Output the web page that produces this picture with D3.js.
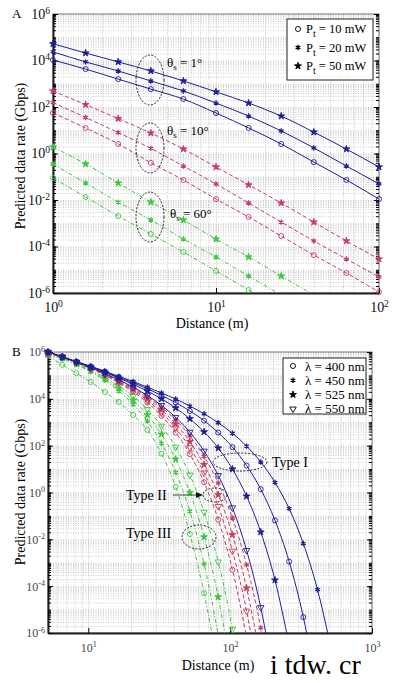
<!DOCTYPE html>
<html>
<head>
<meta charset="utf-8">
<script src="https://cdn.jsdelivr.net/npm/d3@7"></script>
<style>
  body { margin: 0; background: #fff; }
  svg { display: block; }
  text { font-family: "Liberation Serif", "Times New Roman", serif; }
</style>
</head>
<body>
<svg id="chart" width="393" height="683"></svg>
<script>
// ---- data (rates stored as log10 of Gbps) ----
// panel A: distance samples (m)
const distA = [1, 1.585, 2.512, 3.981, 6.31, 10, 15.85, 25.12, 39.81, 63.1, 100];
// theta_s = 1 deg
const a1_10mW = [4.02, 3.63, 3.20, 2.77, 2.34, 1.74, 1.10, 0.41, -0.37, -1.14, -1.96];
const a1_20mW = [4.37, 3.94, 3.55, 3.12, 2.69, 2.17, 1.61, 0.97, 0.24, -0.54, -1.31];
const a1_50mW = [4.72, 4.32, 3.94, 3.55, 3.12, 2.65, 2.17, 1.61, 0.92, 0.19, -0.58];
// theta_s = 10 deg
const a10_10mW = [1.74, 1.10, 0.41, -0.40, -1.14, -1.96, -2.73, -3.55, -4.37, -5.14, -5.96];
const a10_20mW = [2.19, 1.55, 0.90, 0.22, -0.54, -1.31, -2.13, -2.95, -3.76, -4.54, -5.31];
const a10_50mW = [2.69, 2.10, 1.50, 0.88, 0.19, -0.58, -1.35, -2.13, -2.95, -3.76, -4.54];
// theta_s = 60 deg
const a60_10mW = [-1.05, -1.87, -2.69, -3.46, -4.24, -5.05, -5.87, -6.7];
const a60_20mW = [-0.45, -1.27, -2.09, -2.86, -3.68, -4.45, -5.27, -6.09];
const a60_50mW = [0.28, -0.45, -1.27, -2.09, -2.86, -3.68, -4.45, -5.27, -6.09];

// panel B: distance samples (m)
const distB = [5.2, 6.55, 8.24, 10.4, 13.1, 16.4, 20.7, 26.1, 32.8, 41.3, 52.0,
  65.5, 82.4, 103.8, 130.6, 164.4, 207, 260.6, 328, 413, 520];
// Type I (blue)
const b1_400 = [6, 5.80, 5.59, 5.38, 5.16, 4.93, 4.69, 4.43, 4.15, 3.84, 3.48, 3.07, 2.56, 1.94, 1.15, 0.14, -1.19, -2.95, -5.32, -8.5];
const b1_450 = [6, 5.80, 5.59, 5.39, 5.18, 4.96, 4.74, 4.50, 4.25, 3.99, 3.69, 3.36, 2.98, 2.53, 1.98, 1.30, 0.43, -0.69, -2.18, -4.15, -6.79];
const b1_525 = [6, 5.79, 5.58, 5.36, 5.13, 4.89, 4.62, 4.33, 4.00, 3.61, 3.15, 2.59, 1.90, 1.00, -0.16, -1.69, -3.74, -6.5];
const b1_550 = [6, 5.79, 5.57, 5.33, 5.08, 4.81, 4.50, 4.14, 3.72, 3.21, 2.58, 1.77, 0.73, -0.65, -2.47, -4.91, -8.23];
// Type II (red)
const b2_400 = [5.95, 5.78, 5.55, 5.29, 5.01, 4.68, 4.30, 3.84, 3.27, 2.56, 1.64, 0.44, -1.16, -3.30, -6.18];
const b2_450 = [5.95, 5.79, 5.57, 5.33, 5.07, 4.79, 4.46, 4.09, 3.64, 3.10, 2.42, 1.54, 0.41, -1.09, -3.09, -5.78, -9.44];
const b2_525 = [5.95, 5.79, 5.56, 5.32, 5.05, 4.75, 4.41, 4.01, 3.53, 2.93, 2.17, 1.19, -0.09, -1.80, -4.08, -7.16];
const b2_550 = [5.95, 5.79, 5.56, 5.31, 5.03, 4.72, 4.36, 3.93, 3.41, 2.76, 1.92, 0.84, -0.59, -2.50, -5.06, -8.52];
// Type III (green)
const b3_400 = [5.85, 5.45, 5.10, 4.72, 4.29, 3.87, 3.31, 2.67, 1.66, 0.24, -1.77, -4.30, -7.5];
const b3_450 = [5.88, 5.72, 5.46, 5.15, 4.79, 4.33, 3.77, 3.05, 2.10, 0.86, -0.80, -3.05, -6.08];
const b3_525 = [5.9, 5.74, 5.49, 5.20, 4.85, 4.45, 3.94, 3.31, 2.49, 1.42, 0.00, -1.90, -4.46, -7.95];
const b3_550 = [5.9, 5.76, 5.52, 5.24, 4.92, 4.55, 4.11, 3.55, 2.84, 1.94, 0.75, -0.84, -2.96, -5.84, -9.73];

const yTickVals = [1e-6, 1e-4, 1e-2, 1, 1e2, 1e4, 1e6];
const legendA = ["10", "20", "50"];
const legendB = ["400", "450", "525", "550"];

const BLUE = "#1e1e9a", RED = "#c83c5c", GREEN = "#3cc83c";

const shapes = {
  circle: { type: d3.symbolCircle, size: 20, fill: false },
  aster: { type: d3.symbolAsterisk, size: 20, fill: false, sw: 1.3 },
  star: { type: d3.symbolStar, size: 15, fill: true },
  tri: { type: d3.symbolTriangle, size: 18, fill: false, rot: true }
};

const svg = d3.select("#chart");
const defs = svg.append("defs");

function minorTicks(scale) {
  const [lo, hi] = scale.domain();
  const out = [];
  for (let e = Math.floor(Math.log10(lo)); e <= Math.ceil(Math.log10(hi)); e++) {
    for (let m = 1; m < 10; m++) {
      const v = m * Math.pow(10, e);
      if (v >= lo * 0.999 && v <= hi * 1.001) out.push(v);
    }
  }
  return out;
}

function powLabel(sel, fs) {
  sel.each(function (d) {
    const t = d3.select(this);
    t.text(null).attr("font-size", fs);
    t.append("tspan").text("10");
    t.append("tspan").attr("dy", "-0.55em").attr("font-size", "0.68em")
      .text(Math.round(Math.log10(d)));
  });
}

function buildPanel(p) {
  const x = d3.scaleLog().domain(p.xDomain).range([p.x0, p.x1]);
  const y = d3.scaleLog().domain([1e-6, 1e6]).range([p.y1, p.y0]);
  const w = p.x1 - p.x0, h = p.y1 - p.y0;
  const g = svg.append("g");

  defs.append("clipPath").attr("id", p.id)
    .append("rect").attr("x", p.x0).attr("y", p.y0).attr("width", w).attr("height", h);

  // grid (dotted, minor + major)
  const gx = g.append("g").attr("transform", `translate(0,${p.y1})`)
    .call(d3.axisBottom(x).tickValues(minorTicks(x)).tickSize(-h).tickFormat(""));
  const gy = g.append("g").attr("transform", `translate(${p.x0},0)`)
    .call(d3.axisLeft(y).tickValues(minorTicks(y)).tickSize(-w).tickFormat(""));
  [gx, gy].forEach(s => {
    s.select(".domain").remove();
    s.selectAll(".tick line").attr("stroke", "#b4b4b4").attr("stroke-width", 0.7)
      .attr("stroke-dasharray", "1,1.5");
  });

  // frame: top/right light
  g.append("rect").attr("x", p.x0).attr("y", p.y0).attr("width", w).attr("height", h)
    .attr("fill", "none").attr("stroke", "#777").attr("stroke-width", 1);

  // axes
  const bottomAxis = d3.axisBottom(x).tickValues(p.xLabels).tickSizeInner(-5).tickSizeOuter(0).tickPadding(p.xPad);
  const ax = g.append("g").attr("transform", `translate(0,${p.y1})`).call(bottomAxis);
  ax.select(".domain").attr("stroke", "#222").attr("stroke-width", 2);
  ax.selectAll(".tick text").attr("fill", p.labelColor).call(powLabel, p.tickFs);

  const leftAxis = d3.axisLeft(y).tickValues(yTickVals).tickSizeInner(-5).tickSizeOuter(0).tickPadding(3);
  const ay = g.append("g").attr("transform", `translate(${p.x0},0)`).call(leftAxis);
  ay.select(".domain").attr("stroke", "#222").attr("stroke-width", 2);
  ay.selectAll(".tick text").attr("fill", p.labelColor).call(powLabel, p.tickFs);

  // minor ticks inside on left/right
  [p.x0, p.x1].forEach((px, i) => {
    g.append("g").attr("transform", `translate(${px},0)`)
      .call((i ? d3.axisRight(y) : d3.axisLeft(y)).tickValues(minorTicks(y)).tickSize(-3).tickFormat(""))
      .call(s => s.select(".domain").remove());
  });
  g.append("g").attr("transform", `translate(${p.x1},0)`)
    .call(d3.axisRight(y).tickValues(yTickVals).tickSize(-5).tickFormat(""))
    .call(s => s.select(".domain").remove());

  // titles
  g.append("text").attr("x", 12).attr("y", p.y0 + 4).attr("font-size", 13).text(p.tag);
  g.append("text").attr("transform", `translate(25,${p.yTitleY}) rotate(-90)`)
    .attr("text-anchor", "middle").attr("font-size", 14)
    .text("Predicted data rate (Gbps)");
  g.append("text").attr("x", p.xTitleX).attr("y", p.xTitleY)
    .attr("text-anchor", "middle").attr("font-size", 14).text("Distance (m)");

  return { g, x, y };
}

function drawSeries(P, clipId, xs, ys, color, dash, shape) {
  const pts = ys.map((v, i) => [xs[i], Math.pow(10, v)]);
  const line = d3.line().x(d => P.x(d[0])).y(d => P.y(d[1])).curve(d3.curveMonotoneX);
  P.g.append("path").datum(pts).attr("clip-path", `url(#${clipId})`)
    .attr("fill", "none").attr("stroke", color).attr("stroke-width", 1)
    .attr("stroke-dasharray", dash).attr("d", line);
  P.g.append("g").selectAll("path")
    .data(pts.filter(d => d[1] >= 0.9e-6 && d[1] <= 1.1e6))
    .join("path")
    .attr("transform", d => `translate(${P.x(d[0])},${P.y(d[1])})` + (shape.rot ? " rotate(180)" : ""))
    .attr("d", d3.symbol(shape.type, shape.size))
    .attr("fill", shape.fill ? color : "none")
    .attr("stroke", color).attr("stroke-width", shape.sw || 0.9);
}

function legendMarker(g, cx, cy, shape) {
  g.append("path")
    .attr("transform", `translate(${cx},${cy})` + (shape.rot ? " rotate(180)" : ""))
    .attr("d", d3.symbol(shape.type, shape.size))
    .attr("fill", shape.fill ? "#000" : "none").attr("stroke", "#000")
    .attr("stroke-width", shape.sw || 0.9);
}

// ---------------- Panel A ----------------
const A = buildPanel({
  id: "clipA", tag: "A", xDomain: [1, 100], x0: 53, x1: 379, y0: 14, y1: 293,
  xLabels: [1, 10, 100], xPad: 9, tickFs: 14, labelColor: "#111",
  yTitleY: 156, xTitleX: 212, xTitleY: 328
});

const groupsA = [
  { c: BLUE, dash: null, s: [a1_10mW, a1_20mW, a1_50mW] },
  { c: RED, dash: "4,2.5", s: [a10_10mW, a10_20mW, a10_50mW] },
  { c: GREEN, dash: "4,2,1,2", s: [a60_10mW, a60_20mW, a60_50mW] }
];
const shapesA = [shapes.circle, shapes.aster, shapes.star];
groupsA.forEach(gr => gr.s.forEach((ys, i) => drawSeries(A, "clipA", distA, ys, gr.c, gr.dash, shapesA[i])));

// theta annotations
[[80, "1°", 63], [148, "10°", 131], [217, "60°", 214]].forEach(([cy, lab, ty], i) => {
  A.g.append("ellipse").attr("cx", 150).attr("cy", cy).attr("rx", 14).attr("ry", 25)
    .attr("fill", "none").attr("stroke", "#222").attr("stroke-width", 1).attr("stroke-dasharray", "2,1.5");
  const t = A.g.append("text").attr("x", i === 2 ? 170 : 167).attr("y", ty + 4).attr("font-size", 13);
  t.append("tspan").text("θ");
  t.append("tspan").attr("dy", 3).attr("font-size", 9).text("s");
  t.append("tspan").attr("dy", -3).text(" = " + lab);
});

// legend A
const legA = A.g.append("g");
legA.append("rect").attr("x", 287).attr("y", 19).attr("width", 86).attr("height", 61)
  .attr("fill", "#fff").attr("stroke", "#222").attr("stroke-width", 1);
legendA.forEach((p, i) => {
  const cy = 29 + i * 18.5;
  legendMarker(legA, 298, cy, shapesA[i]);
  const t = legA.append("text").attr("x", 306).attr("y", cy + 4).attr("font-size", 12.5);
  t.append("tspan").text("P");
  t.append("tspan").attr("dy", 4).attr("font-size", 10).text("t");
  t.append("tspan").attr("dy", -4).text(" = " + p + " mW");
});

// ---------------- Panel B ----------------
const B = buildPanel({
  id: "clipB", tag: "B", xDomain: [5.2, 1000], x0: 48, x1: 372, y0: 352, y1: 633,
  xLabels: [10, 100, 1000], xPad: 10, tickFs: 12, labelColor: "#444",
  yTitleY: 492, xTitleX: 218, xTitleY: 670
});

const shapesB = [shapes.circle, shapes.aster, shapes.star, shapes.tri];
const groupsB = [
  { c: GREEN, dash: "4,2,1,2", s: [b3_400, b3_450, b3_525, b3_550] },
  { c: RED, dash: "4,2.5", s: [b2_400, b2_450, b2_525, b2_550] },
  { c: BLUE, dash: null, s: [b1_400, b1_450, b1_525, b1_550] }
];
groupsB.forEach(gr => gr.s.forEach((ys, i) => drawSeries(B, "clipB", distB, ys, gr.c, gr.dash, shapesB[i])));

// type annotations
const ell = (cx, cy, rx, ry) => B.g.append("ellipse").attr("cx", cx).attr("cy", cy).attr("rx", rx).attr("ry", ry)
  .attr("fill", "none").attr("stroke", "#222").attr("stroke-width", 1).attr("stroke-dasharray", "2,1.5");
ell(240, 462, 27, 9);
ell(215, 495, 12, 7);
ell(199, 537, 17, 12);
B.g.append("text").attr("x", 272).attr("y", 467).attr("font-size", 14).text("Type I");
B.g.append("text").attr("x", 126).attr("y", 500).attr("font-size", 14).text("Type II");
B.g.append("text").attr("x", 126).attr("y", 538).attr("font-size", 14).text("Type III");
B.g.append("line").attr("x1", 173).attr("y1", 495).attr("x2", 197).attr("y2", 495)
  .attr("stroke", "#222").attr("stroke-width", 0.8);
B.g.append("path").attr("d", "M203,495 L196,492 L196,498 Z").attr("fill", "#111");

// legend B
const legB = B.g.append("g");
legB.append("rect").attr("x", 283).attr("y", 358).attr("width", 83).attr("height", 56)
  .attr("fill", "#fff").attr("stroke", "#222").attr("stroke-width", 1);
legendB.forEach((l, i) => {
  const cy = 366 + i * 14.3;
  legendMarker(legB, 293, cy, shapesB[i]);
  legB.append("text").attr("x", 305).attr("y", cy + 4.5).attr("font-size", 13).text("λ = " + l + " nm");
});

// watermark text at the bottom right
svg.append("text").attr("x", 270).attr("y", 674).attr("font-size", 28).text("i tdw. cr");
</script>
</body>
</html>
